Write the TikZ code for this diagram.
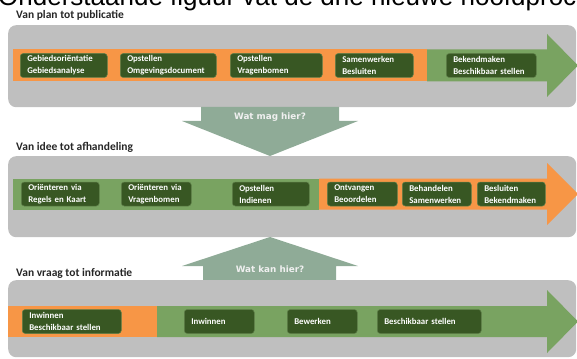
\documentclass[tikz,border=0pt]{standalone}
\usepackage{fontspec}
\setmainfont{Carlito}
\newfontfamily\headfont{Liberation Sans}
\newfontfamily\askfont{DejaVu Sans}
\usepackage{tikz}
\definecolor{lanegray}{RGB}{191,191,191}
\definecolor{bandorange}{RGB}{247,150,70}
\definecolor{bandgreen}{RGB}{121,163,97}
\definecolor{boxgreen}{RGB}{56,87,35}
\definecolor{boxedge}{RGB}{96,128,74}
\definecolor{askgreen}{RGB}{143,171,151}
\definecolor{asklabel}{RGB}{240,240,240}
\definecolor{titletext}{RGB}{38,38,38}

\begin{document}
\begin{tikzpicture}[x=1pt, y=-1pt,
  lane/.style={fill=lanegray, rounded corners=8pt, anchor=north west,
               minimum width=568pt, inner sep=0pt},
  stepbox/.style={fill=boxgreen, draw=boxedge, line width=0.5pt, rounded corners=3pt,
                  text=white, font=\fontsize{8.8}{12}\selectfont\bfseries,
                  align=left, anchor=west, minimum height=24pt,
                  inner xsep=7pt, inner ysep=0pt, text width=#1},
  title/.style={anchor=base west, inner sep=0pt, text=titletext,
                font=\fontsize{11.5}{13}\selectfont\bfseries},
  ask/.style={fill=askgreen},
  asklabel/.style={inner sep=0pt, text=asklabel,
                   font=\askfont\fontsize{8.8}{10}\selectfont\bfseries}
]
\clip (0,0) rectangle (577,358);

\node[anchor=base west, inner sep=0pt, font=\headfont\fontsize{26}{30}\selectfont]
  (heading) at (-2,6) {Onderstaande figuur vat de drie nieuwe hoofdprocessen};

% van plan tot publicatie
\node[title] (title1) at (16,19) {Van plan tot publicatie};
\node[lane, minimum height=82pt] (lane1) at (8,25) {};
\fill[bandorange] (13,49.5) rectangle (427,81.5);
\fill[bandgreen]  (427,49.5) -- (547,49.5) -- (547,34) -- (578,65.5)
                  -- (547,97) -- (547,81.5) -- (427,81.5) -- cycle;
\node[stepbox=73pt] (p1) at (20,65.5)  {Gebiedsoriëntatie\\Gebiedsanalyse};
\node[stepbox=82pt] (p2) at (120,65.5) {Opstellen\\Omgevingsdocument};
\node[stepbox=78pt] (p3) at (230,65.5) {Opstellen\\Vragenbomen};
\node[stepbox=64pt] (p4) at (335,65.5) {Samenwerken\\Besluiten};
\node[stepbox=76pt] (p5) at (446,65.5) {Bekendmaken\\Beschikbaar stellen};

% wat mag hier
\fill[ask] (201,107) -- (339,107) -- (339,121) -- (358,121) -- (270,156)
           -- (182,121) -- (201,121) -- cycle;
\node[asklabel] (mag) at (270,117.5) {Wat mag hier?};

% van idee tot afhandeling
\node[title] (title2) at (16,150) {Van idee tot afhandeling};
\node[lane, minimum height=81pt] (lane2) at (8,156) {};
\fill[bandgreen]  (13,178.5) rectangle (319,209.5);
\fill[bandorange] (319,178.5) -- (547,178.5) -- (547,163) -- (578,194)
                  -- (547,225) -- (547,209.5) -- (319,209.5) -- cycle;
\node[stepbox=64pt] (i1) at (21,194)  {Oriënteren via\\Regels en Kaart};
\node[stepbox=56pt] (i2) at (121,194) {Oriënteren via\\Vragenbomen};
\node[stepbox=63pt] (i3) at (232,194) {Opstellen\\Indienen};
\node[stepbox=56pt] (i4) at (327,194) {Ontvangen\\Beoordelen};
\node[stepbox=55pt] (i5) at (402,194) {Behandelen\\Samenwerken};
\node[stepbox=54pt] (i6) at (477,194) {Besluiten\\Bekendmaken};

% wat kan hier
\fill[ask] (203,280) -- (336,280) -- (336,266) -- (358,266) -- (270,237)
           -- (182,266) -- (203,266) -- cycle;
\node[asklabel] (kan) at (270,269) {Wat kan hier?};

% van vraag tot informatie
\node[title] (title3) at (16,276) {Van vraag tot informatie};
\node[lane, minimum height=77pt] (lane3) at (8,280) {};
\fill[bandorange] (8,306) rectangle (157,337);
\fill[bandgreen]  (157,306) -- (547,306) -- (547,290) -- (578,321.5)
                  -- (547,353) -- (547,337) -- (157,337) -- cycle;
\node[stepbox=85pt] (v1) at (22,321.5)  {Inwinnen\\Beschikbaar stellen};
\node[stepbox=56pt] (v2) at (184,321.5) {Inwinnen};
\node[stepbox=56pt] (v3) at (287,321.5) {Bewerken};
\node[stepbox=90pt] (v4) at (377,321.5) {Beschikbaar stellen};

\end{tikzpicture}
\end{document}
